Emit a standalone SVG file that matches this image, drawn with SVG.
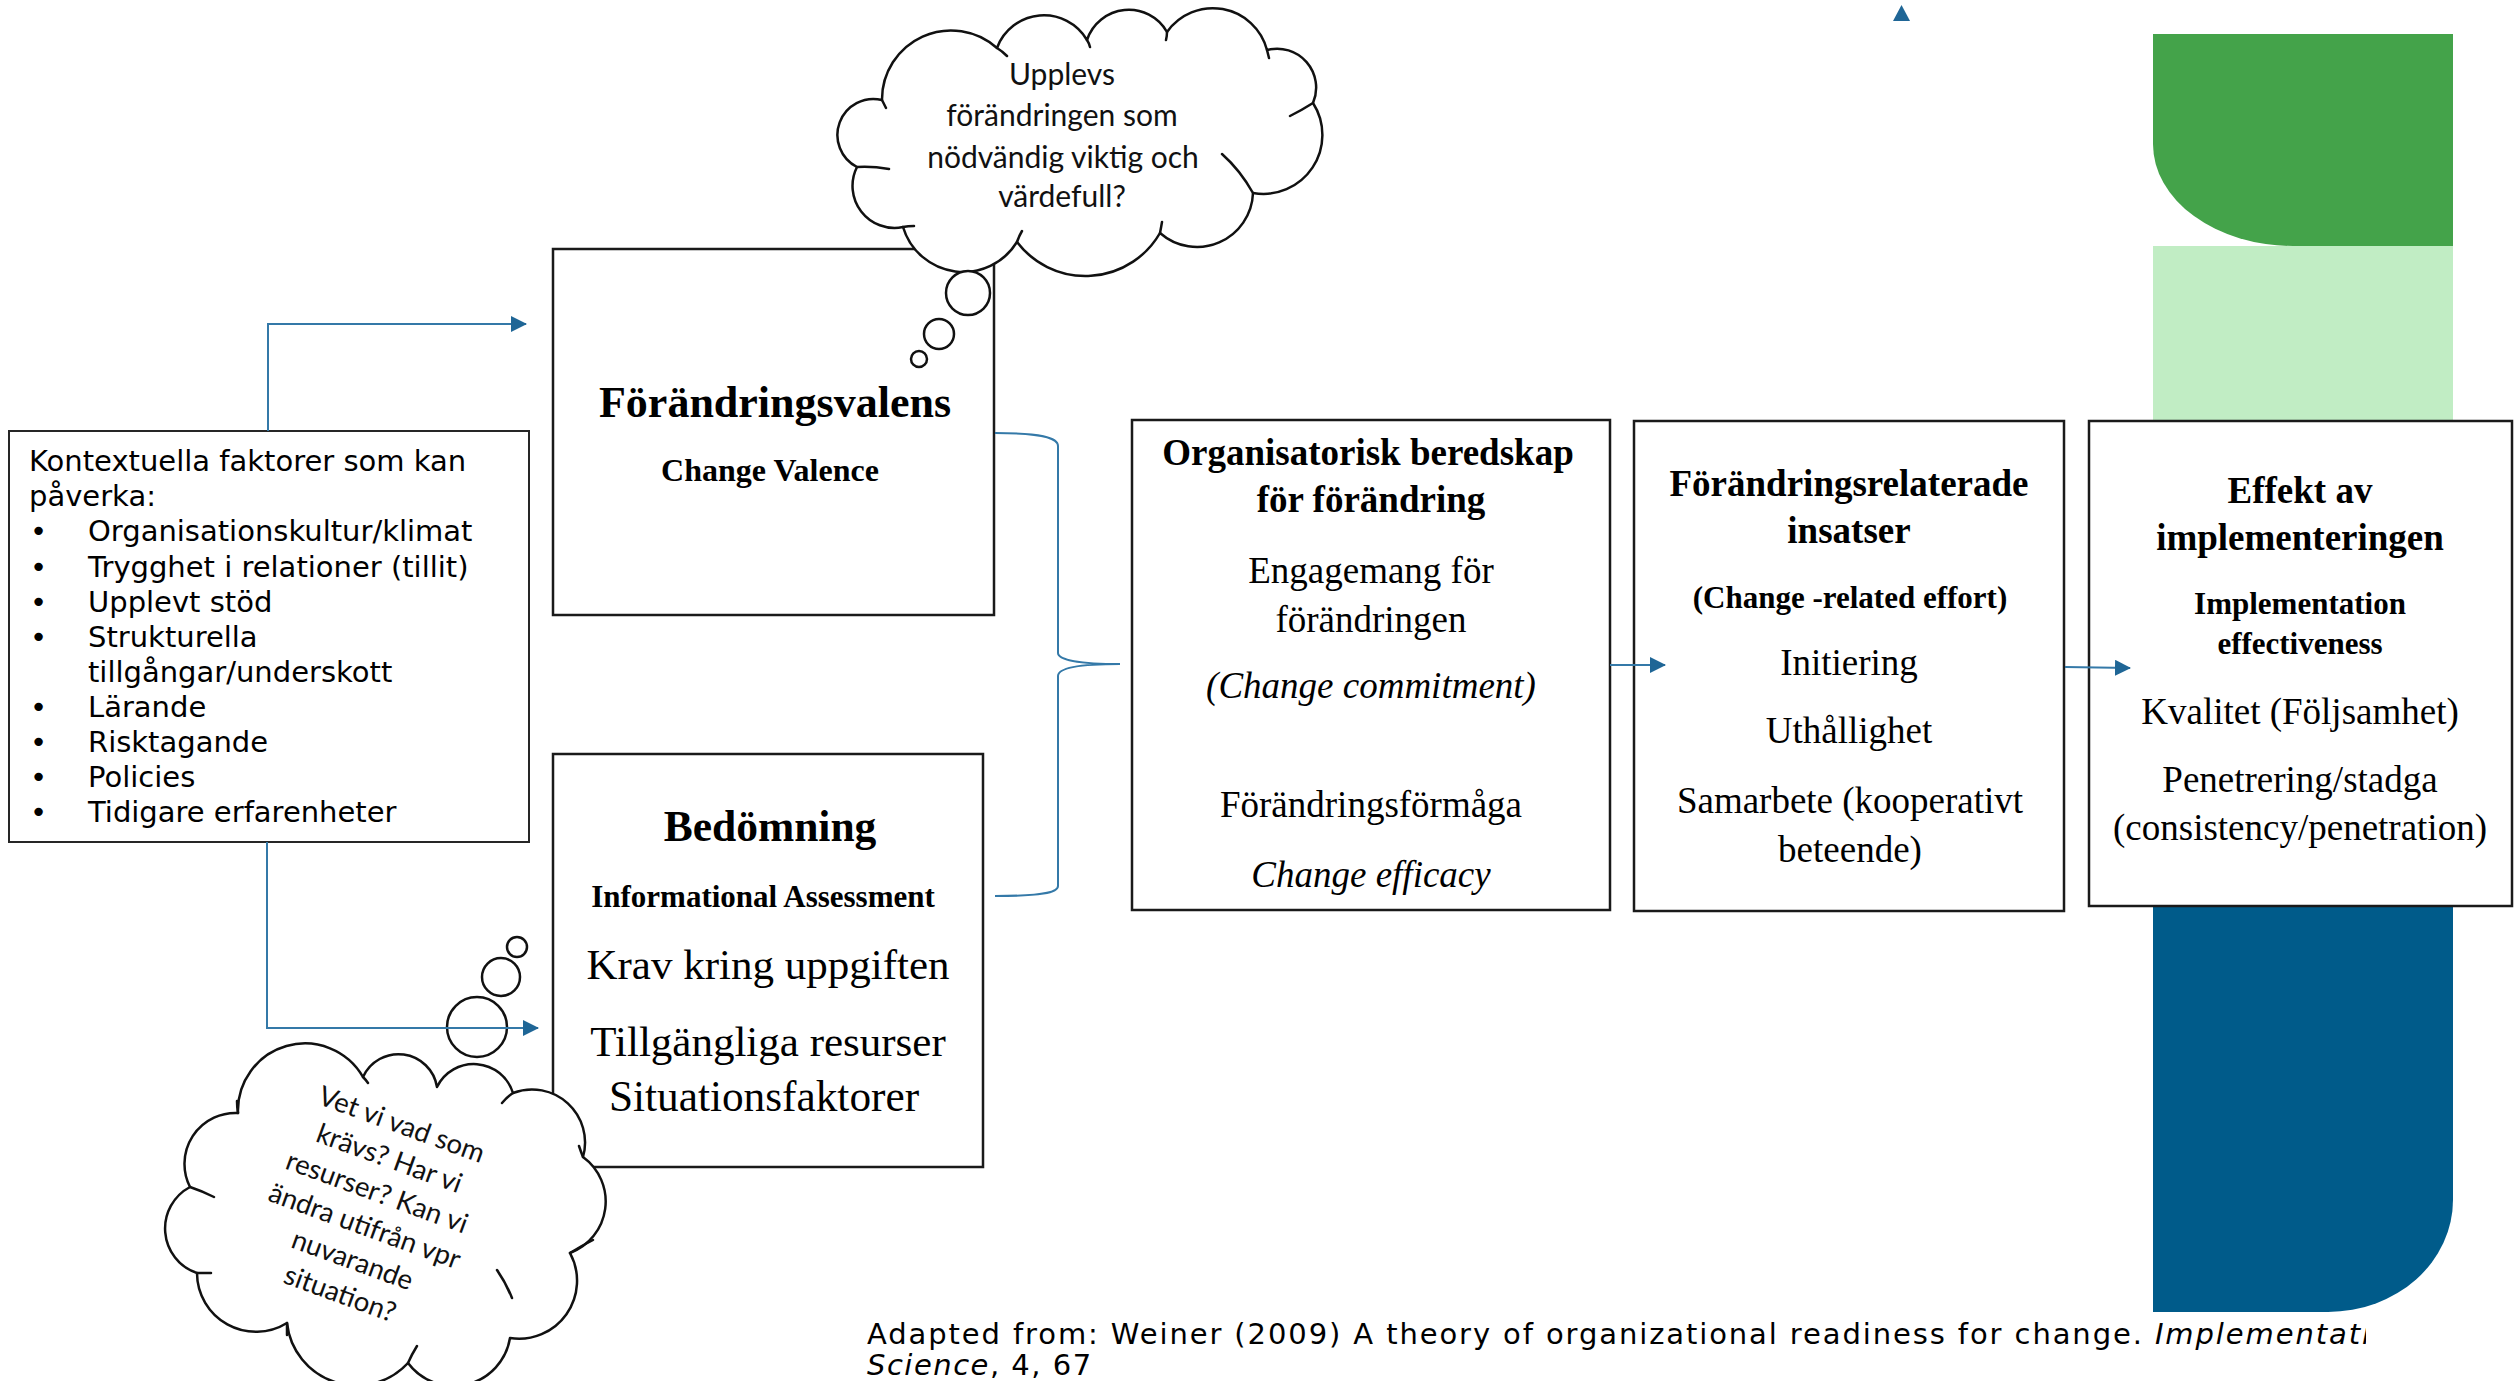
<svg xmlns="http://www.w3.org/2000/svg" width="2514" height="1381" viewBox="0 0 2514 1381">
<style>
.box{fill:#fff;stroke:#1a1a1a;stroke-width:2.5}
.ctxbox{fill:#fff;stroke:#262626;stroke-width:2}
.cloud{fill:#fff;stroke:#111;stroke-width:2.5;stroke-linejoin:round}
.crease{fill:none;stroke:#111;stroke-width:2.5;stroke-linecap:round}
.bub{fill:#fff;stroke:#111;stroke-width:2.5}
.con{fill:none;stroke:#3479a8;stroke-width:2}
.ser{font-family:"Liberation Serif","Times New Roman",serif;fill:#000;text-anchor:middle}
.b{font-weight:bold}
.i{font-style:italic}
.sans{font-family:"DejaVu Sans",Verdana,sans-serif;fill:#000;font-size:29px}
.cl{font-family:Lato,"Liberation Sans",Arial,sans-serif;fill:#111;text-anchor:middle}
</style>
<defs>
<marker id="arr" markerUnits="userSpaceOnUse" markerWidth="16" markerHeight="16" refX="15" refY="8" orient="auto">
<path d="M0,0 L16,8 L0,16 Z" fill="#1f6696"/>
</marker>
<clipPath id="fnclip"><rect x="0" y="1290" width="2366" height="91"/></clipPath>
</defs>

<g id="decor">
<path d="M2153,34 H2453 V246 H2293 A140,102 0 0 1 2153,144 Z" fill="#44a34a"/>
<rect x="2153" y="246" width="300" height="414" fill="#c1edc4"/>
<path d="M2153,660 H2453 V1200 A125,112 0 0 1 2328,1312 H2153 Z" fill="#005b8a"/>
</g>

<g id="kontext">
<rect class="ctxbox" x="9" y="431" width="520" height="411"/>
<text class="sans" x="29" y="471">Kontextuella faktorer som kan</text>
<text class="sans" x="29" y="506">påverka:</text>
<text class="sans" x="30" y="541">•</text><text class="sans" x="88" y="541">Organisationskultur/klimat</text>
<text class="sans" x="30" y="576.5">•</text><text class="sans" x="88" y="576.5">Trygghet i relationer (tillit)</text>
<text class="sans" x="30" y="612">•</text><text class="sans" x="88" y="612">Upplevt stöd</text>
<text class="sans" x="30" y="647">•</text><text class="sans" x="88" y="647">Strukturella</text>
<text class="sans" x="88" y="682">tillgångar/underskott</text>
<text class="sans" x="30" y="716.5">•</text><text class="sans" x="88" y="716.5">Lärande</text>
<text class="sans" x="30" y="751.5">•</text><text class="sans" x="88" y="751.5">Risktagande</text>
<text class="sans" x="30" y="786.5">•</text><text class="sans" x="88" y="786.5">Policies</text>
<text class="sans" x="30" y="822">•</text><text class="sans" x="88" y="822">Tidigare erfarenheter</text>
</g>

<g id="valens">
<rect class="box" x="553" y="249" width="441" height="366"/>
<text class="ser b" x="775" y="417" font-size="44">Förändringsvalens</text>
<text class="ser b" x="770" y="481" font-size="32">Change Valence</text>
</g>

<g id="bedomning">
<rect class="box" x="553" y="754" width="430" height="413"/>
<text class="ser b" x="770" y="841" font-size="43.5">Bedömning</text>
<text class="ser b" x="763" y="907" font-size="31">Informational Assessment</text>
<text class="ser" x="768" y="979" font-size="43">Krav kring uppgiften</text>
<text class="ser" x="768" y="1056" font-size="43">Tillgängliga  resurser</text>
<text class="ser" x="764" y="1111" font-size="43.3">Situationsfaktorer</text>
</g>

<g id="beredskap">
<rect class="box" x="1132" y="420" width="478" height="490"/>
<text class="ser b" x="1368" y="465" font-size="37">Organisatorisk beredskap</text>
<text class="ser b" x="1371" y="512" font-size="37">för förändring</text>
<text class="ser" x="1371" y="583" font-size="37">Engagemang för</text>
<text class="ser" x="1371" y="632" font-size="37">förändringen</text>
<text class="ser i" x="1371" y="698" font-size="37">(Change commitment)</text>
<text class="ser" x="1371" y="817" font-size="37">Förändringsförmåga</text>
<text class="ser i" x="1371" y="887" font-size="37">Change efficacy</text>
</g>

<g id="insatser">
<rect class="box" x="1634" y="421" width="430" height="490"/>
<text class="ser b" x="1849" y="496" font-size="37">Förändringsrelaterade</text>
<text class="ser b" x="1849" y="543" font-size="37">insatser</text>
<text class="ser b" x="1850" y="608" font-size="31">(Change -related effort)</text>
<text class="ser" x="1849" y="675" font-size="37">Initiering</text>
<text class="ser" x="1849" y="743" font-size="37">Uthållighet</text>
<text class="ser" x="1850" y="813" font-size="37">Samarbete (kooperativt</text>
<text class="ser" x="1850" y="862" font-size="37">beteende)</text>
</g>

<g id="effekt">
<rect class="box" x="2089" y="421" width="423" height="485"/>
<text class="ser b" x="2300" y="503" font-size="37">Effekt av</text>
<text class="ser b" x="2300" y="550" font-size="37">implementeringen</text>
<text class="ser b" x="2300" y="614" font-size="31">Implementation</text>
<text class="ser b" x="2300" y="654" font-size="31">effectiveness</text>
<text class="ser" x="2300" y="724" font-size="37">Kvalitet (Följsamhet)</text>
<text class="ser" x="2300" y="792" font-size="37">Penetrering/stadga</text>
<text class="ser" x="2300" y="840" font-size="37">(consistency/penetration)</text>
</g>

<g id="cloud-valens">
<path class="cloud" d="M882,100 A69,69 0 0 1 997,48 A50,50 0 0 1 1087,40 A44,44 0 0 1 1167,32 A56,56 0 0 1 1267,50 A39,39 0 0 1 1313,103 A59,59 0 0 1 1253,193 A56,56 0 0 1 1160,233 A86,86 0 0 1 1017,242 A63,63 0 0 1 903,227 A42,42 0 0 1 857,167 A36,36 0 0 1 882,100 Z"/>
<path class="crease" d="M882,100 Q884,104 886,108 M997,48 Q1002,51 1007,56 M1087,40 Q1089,43 1090,47 M1167,32 Q1167,36 1166,40 M1267,50 Q1268,54 1269,58 M1313,103 Q1302,110 1290,116 M1253,193 Q1240,170 1222,154 M1160,233 Q1161,228 1162,222 M1017,242 Q1019,236 1022,231 M903,227 Q908,226 914,226 M857,167 Q872,166 889,169"/>
<text class="cl" x="1062" y="85" font-size="30">Upplevs</text>
<text class="cl" x="1062" y="126" font-size="30">förändringen som</text>
<text class="cl" x="1063" y="168" font-size="30">nödvändig viktig och</text>
<text class="cl" x="1062" y="207" font-size="30">värdefull?</text>
<circle class="bub" cx="968" cy="293" r="22"/>
<circle class="bub" cx="939" cy="334" r="15"/>
<circle class="bub" cx="919" cy="359" r="8"/>
</g>

<g id="cloud-bedomning">
<path class="cloud" d="M238,1113 A67,67 0 0 1 363,1077 A39,39 0 0 1 437,1087 A41,41 0 0 1 513,1093 A53,53 0 0 1 583,1157 A55,55 0 0 1 570,1253 A58,58 0 0 1 510,1338 A57,57 0 0 1 408,1363 A70,70 0 0 1 287,1323 A59,59 0 0 1 197,1273 A47,47 0 0 1 190,1187 A51,51 0 0 1 238,1113 Z"/>
<path class="crease" d="M238,1113 Q237,1107 237,1101 M363,1077 Q366,1080 368,1083 M513,1093 Q507,1097 502,1103 M583,1157 Q581,1152 579,1146 M570,1253 Q581,1246 593,1240 M497,1270 Q506,1283 512,1298 M408,1363 Q412,1354 417,1346 M287,1323 Q287,1329 287,1335 M197,1273 Q204,1273 211,1273 M190,1187 Q202,1191 214,1197"/>
<g transform="translate(371,1209) rotate(20)">
<text class="cl" x="0" y="-80.5" font-size="27.5">Vet vi vad som</text>
<text class="cl" x="0" y="-44.5" font-size="27.5">krävs? Har vi</text>
<text class="cl" x="0" y="-8.5" font-size="27.5">resurser? Kan vi</text>
<text class="cl" x="0" y="27.5" font-size="27.5">ändra utifrån vpr</text>
<text class="cl" x="0" y="63.5" font-size="27.5">nuvarande</text>
<text class="cl" x="0" y="99.5" font-size="27.5">situation?</text>
</g>
<circle class="bub" cx="477" cy="1027" r="30"/>
<circle class="bub" cx="501" cy="977" r="19"/>
<circle class="bub" cx="517" cy="947" r="10"/>
</g>

<g id="connectors">
<path class="con" d="M268,431 V324 H526" marker-end="url(#arr)"/>
<path class="con" d="M267,842 V1028 H538" marker-end="url(#arr)"/>
<path class="con" d="M995,433 C1040,433 1058,437 1058,446 L1058,653 C1058,660 1080,664 1120,664 C1080,664 1058,668 1058,676 L1058,886 C1058,893 1040,896 995,896"/>
<path class="con" d="M1610,665 H1665" marker-end="url(#arr)"/>
<path class="con" d="M2065,667 L2130,668" marker-end="url(#arr)"/>
<polygon points="1901.5,5 1893,21 1910,21" fill="#1f6696"/>
</g>

<g id="footnote" clip-path="url(#fnclip)">
<text class="sans" x="867" y="1344" letter-spacing="1.9">Adapted from: Weiner (2009) A theory of organizational readiness for change. <tspan font-style="italic">Implementation</tspan></text>
<text class="sans" x="867" y="1375" font-size="24" letter-spacing="1.5"><tspan font-style="italic">Science</tspan>, 4, 67</text>
</g>
</svg>
